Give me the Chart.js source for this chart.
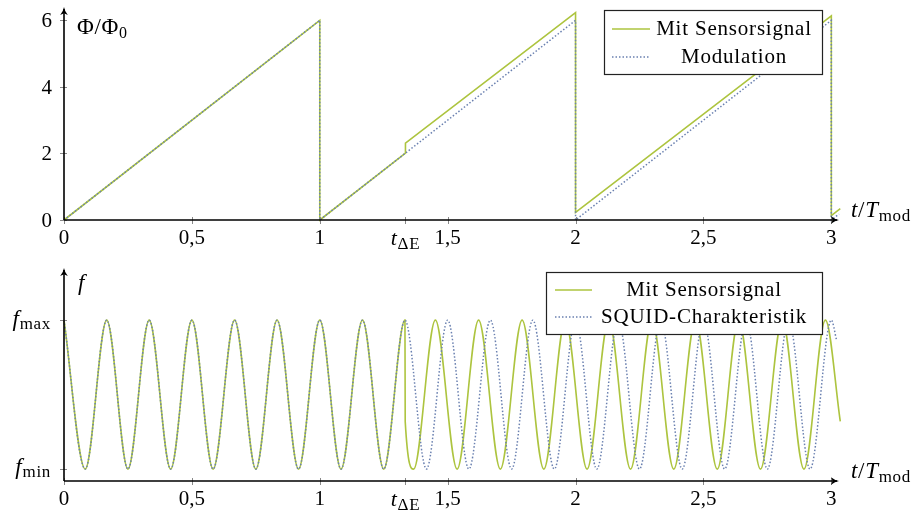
<!DOCTYPE html>
<html>
<head>
<meta charset="utf-8">
<script src="https://cdn.jsdelivr.net/npm/chart.js@4.4.0/dist/chart.umd.min.js"></script>
<style>
  body { margin: 0; background: #fff; width: 921px; height: 513px; overflow: hidden; position: relative; }
  canvas { position: absolute; left: 0; }
  #top { top: 0; }
  #bot { top: 250px; }
</style>
</head>
<body>
<canvas id="top" width="921" height="250"></canvas>
<canvas id="bot" width="921" height="263"></canvas>
<script>
// values
var xTicks = [0, 0.5, 1, 1.335, 1.5, 2, 2.5, 3];
var tDE = 1.335;
var phiTicks = [0, 2, 4, 6];

// top panel: flux over time
var modT   = [0, 1, 1, 2, 2, 3, 3, 3.03];
var modPhi = [0, 6, 0, 6, 0, 6, 0, 0.18];
var sigT   = [0, 1, 1, 1.335, 1.335, 2, 2, 3, 3, 3.035];
var sigPhi = [0, 6, 0, 2.01, 2.31, 6.23, 0.23, 6.13, 0.13, 0.34];

// bottom panel: extremes of the frequency curves (1 = f_max, 0 = f_min)
var charT = [0, 0.083, 0.167, 0.25, 0.333, 0.417, 0.5, 0.583, 0.667, 0.75, 0.833, 0.917,
             1, 1.083, 1.167, 1.25, 1.333, 1.417, 1.5, 1.583, 1.667, 1.75, 1.833, 1.917,
             2, 2.083, 2.167, 2.25, 2.333, 2.417, 2.5, 2.583, 2.667, 2.75, 2.833, 2.917, 3, 3.02];
var charF = [1, 0, 1, 0, 1, 0, 1, 0, 1, 0, 1, 0,
             1, 0, 1, 0, 1, 0, 1, 0, 1, 0, 1, 0,
             1, 0, 1, 0, 1, 0, 1, 0, 1, 0, 1, 0, 1, 0.87];
var sensT = [0, 0.083, 0.167, 0.25, 0.333, 0.417, 0.5, 0.583, 0.667, 0.75, 0.833, 0.917,
             1, 1.083, 1.167, 1.25, 1.333, 1.334, 1.367, 1.452, 1.537, 1.621, 1.706, 1.791,
             1.876, 1.96, 2.045, 2.13, 2.215, 2.299, 2.384, 2.469, 2.554, 2.638, 2.723,
             2.808, 2.893, 2.977, 3.035];
var sensF = [1, 0, 1, 0, 1, 0, 1, 0, 1, 0, 1, 0,
             1, 0, 1, 0, 1, 0.32, 0, 1, 0, 1, 0, 1,
             0, 1, 0, 1, 0, 1, 0, 1, 0, 1, 0,
             1, 0, 1, 0.32];

var GREEN = '#adc43f';
var BLUE = '#6a80b0';
var SERIF = '"Liberation Serif", "DejaVu Serif", serif';
var F_TICK = '21px ' + SERIF;
var F_BIG = '23px ' + SERIF;
var F_BIGI = 'italic 23px ' + SERIF;
var F_SUB = '17px ' + SERIF;

function pts(xs, ys) {
    return xs.map(function (x, i) { return {x: x, y: ys[i]}; });
}

function richWidth(ctx, parts) {
    var w = 0;
    parts.forEach(function (p) { ctx.font = p[1]; w += ctx.measureText(p[0]).width; });
    return w;
}

function drawRich(ctx, x, y, parts, align) {
    ctx.letterSpacing = '0.7px';
    var w = richWidth(ctx, parts);
    if (align == 'right') x -= w;
    if (align == 'center') x -= w / 2;
    ctx.textAlign = 'left';
    ctx.textBaseline = 'alphabetic';
    ctx.fillStyle = '#000';
    parts.forEach(function (p) {
        ctx.font = p[1];
        ctx.fillText(p[0], x, y + (p[2] || 0));
        x += ctx.measureText(p[0]).width;
    });
    ctx.letterSpacing = '0px';
}

function arrowHead(ctx, x, y, dir) {
    ctx.save();
    ctx.translate(x, y);
    if (dir == 'right') ctx.rotate(Math.PI / 2);
    ctx.beginPath();
    ctx.moveTo(0, 0);
    ctx.quadraticCurveTo(0.6, 4, 3.8, 8);
    ctx.lineTo(0, 6.3);
    ctx.lineTo(-3.8, 8);
    ctx.quadraticCurveTo(-0.6, 4, 0, 0);
    ctx.fillStyle = '#000';
    ctx.fill();
    ctx.restore();
}

function deco(cfg) {
    return {
        id: 'deco',
        afterDraw: function (chart) {
            var ctx = chart.ctx;
            var a = chart.chartArea;
            var xs = chart.scales.x, ys = chart.scales.y;
            ctx.save();
            // tick marks crossing the axes
            ctx.strokeStyle = '#888';
            ctx.lineWidth = 1;
            xTicks.forEach(function (v) {
                var px = Math.round(xs.getPixelForValue(v)) + 0.5;
                ctx.beginPath(); ctx.moveTo(px, a.bottom - 3); ctx.lineTo(px, a.bottom + 4); ctx.stroke();
            });
            cfg.yTicks.forEach(function (v) {
                var py = Math.round(ys.getPixelForValue(v)) + 0.5;
                ctx.beginPath(); ctx.moveTo(a.left - 4, py); ctx.lineTo(a.left + 3, py); ctx.stroke();
            });
            // axes with arrows
            ctx.strokeStyle = '#000';
            ctx.lineWidth = 1.6;
            ctx.beginPath();
            ctx.moveTo(a.left, a.bottom); ctx.lineTo(a.right - 2, a.bottom);
            ctx.moveTo(a.left, a.bottom); ctx.lineTo(a.left, a.top + 2);
            ctx.stroke();
            arrowHead(ctx, a.left, a.top, 'up');
            arrowHead(ctx, a.right, a.bottom, 'right');

            // y tick numbers (top panel only)
            (cfg.yNumbers || []).forEach(function (v) {
                ctx.font = F_TICK;
                ctx.fillStyle = '#000';
                ctx.textAlign = 'right';
                ctx.textBaseline = 'alphabetic';
                ctx.fillText(String(v), a.left - 12, ys.getPixelForValue(v) + 7);
            });

            // labels with subscripts
            drawRich(ctx, xs.getPixelForValue(tDE), a.bottom + 25,
                     [['t', 'italic 22px ' + SERIF], ['\u0394E', F_SUB, 4]], 'center');
            cfg.labels.forEach(function (l) { drawRich(ctx, l.x, l.y, l.parts, l.align); });

            // legend
            var L = cfg.legend;
            ctx.fillStyle = '#fff';
            ctx.fillRect(L.x, L.y, L.w, L.h);
            ctx.strokeStyle = '#222';
            ctx.lineWidth = 1.2;
            ctx.strokeRect(L.x + 0.5, L.y + 0.5, L.w, L.h);
            chart.data.datasets.forEach(function (ds, i) {
                var ry = L.rows[i];
                ctx.strokeStyle = ds.borderColor;
                ctx.lineWidth = ds.borderWidth;
                ctx.setLineDash(ds.borderDash || []);
                ctx.beginPath(); ctx.moveTo(L.lx0, ry); ctx.lineTo(L.lx1, ry); ctx.stroke();
                ctx.setLineDash([]);
                ctx.font = F_TICK;
                ctx.letterSpacing = '0.8px';
                ctx.fillStyle = '#000';
                ctx.textAlign = 'center';
                ctx.textBaseline = 'alphabetic';
                ctx.fillText(ds.label, L.tx, ry + 6);
                ctx.letterSpacing = '0px';
            });
            ctx.restore();
        }
    };
}

function xScale() {
    return {
        type: 'linear', min: 0, max: 3.03,
        afterBuildTicks: function (s) { s.ticks = xTicks.map(function (v) { return {value: v}; }); },
        grid: {display: true, drawOnChartArea: false, drawTicks: false},
        border: {display: false},
        ticks: {
            padding: 6, color: '#000', font: {family: SERIF, size: 21}, maxRotation: 0, autoSkip: false,
            callback: function (v) { return v == tDE ? '' : String(v).replace('.', ','); }
        }
    };
}

function yScale(min, max, ticks) {
    return {
        type: 'linear', min: min, max: max,
        afterBuildTicks: function (s) { s.ticks = ticks.map(function (v) { return {value: v}; }); },
        afterFit: function (s) { s.width = 64; },
        grid: {display: true, drawOnChartArea: false, drawTicks: false},
        border: {display: false},
        ticks: {display: false}
    };
}

new Chart(document.getElementById('top'), {
    type: 'line',
    data: {
        datasets: [
            {label: 'Mit Sensorsignal', data: pts(sigT, sigPhi), borderColor: GREEN, borderWidth: 1.6, order: 2},
            {label: 'Modulation', data: pts(modT, modPhi), borderColor: BLUE, borderWidth: 1.5, borderDash: [1.5, 2], order: 1}
        ]
    },
    options: {
        responsive: false, animation: false,
        layout: {padding: {left: 0, right: 82, top: 7, bottom: 0}},
        elements: {point: {radius: 0}, line: {tension: 0}},
        datasets: {line: {clip: false}},
        plugins: {legend: {display: false}, tooltip: {enabled: false}},
        scales: {
            x: Object.assign(xScale(), {afterFit: function (s) { s.height = 30; }}),
            y: yScale(0, 6.4, phiTicks)
        }
    },
    plugins: [deco({
        yTicks: phiTicks,
        yNumbers: phiTicks,
        labels: [
            {x: 77, y: 34, parts: [['\u03A6', F_BIG], ['/', F_BIG], ['\u03A6', F_BIG], ['0', '16px ' + SERIF, 4]]},
            {x: 851, y: 217, parts: [['t', F_BIGI], ['/', F_BIG], ['T', F_BIGI], ['mod', F_SUB, 4]]}
        ],
        legend: {x: 604, y: 10, w: 218, h: 64, rows: [29, 57], lx0: 612, lx1: 650, tx: 734}
    })]
});

new Chart(document.getElementById('bot'), {
    type: 'line',
    data: {
        datasets: [
            {label: 'Mit Sensorsignal', data: pts(sensT, sensF), borderColor: GREEN, borderWidth: 1.6, order: 2},
            {label: 'SQUID-Charakteristik', data: pts(charT, charF), borderColor: BLUE, borderWidth: 1.5, borderDash: [1.5, 2], order: 1}
        ]
    },
    options: {
        responsive: false, animation: false,
        layout: {padding: {left: 0, right: 82, top: 18, bottom: 0}},
        elements: {point: {radius: 0}, line: {cubicInterpolationMode: 'monotone'}},
        datasets: {line: {clip: false}},
        plugins: {legend: {display: false}, tooltip: {enabled: false}},
        scales: {
            x: Object.assign(xScale(), {afterFit: function (s) { s.height = 32; }}),
            y: yScale(-0.08, 1.35, [0, 1])
        }
    },
    plugins: [deco({
        yTicks: [0, 1],
        labels: [
            {x: 51, y: 76, parts: [['f', F_BIGI], ['max', F_SUB, 3]], align: 'right'},
            {x: 51, y: 224, parts: [['f', F_BIGI], ['min', F_SUB, 3]], align: 'right'},
            {x: 78, y: 40, parts: [['f', F_BIGI]]},
            {x: 851, y: 228, parts: [['t', F_BIGI], ['/', F_BIG], ['T', F_BIGI], ['mod', F_SUB, 4]]}
        ],
        legend: {x: 546, y: 22, w: 276, h: 62, rows: [40, 67], lx0: 555, lx1: 592, tx: 704}
    })]
});
</script>
</body>
</html>
